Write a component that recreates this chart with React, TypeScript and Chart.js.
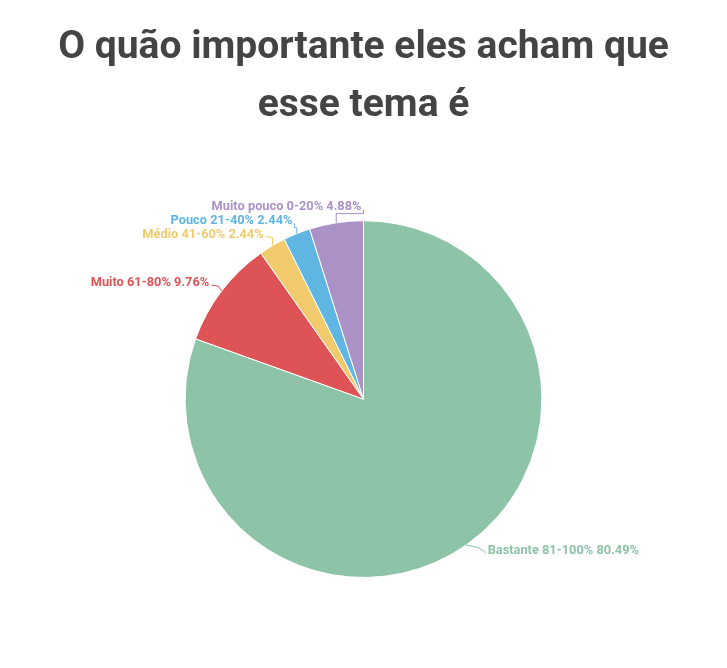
import React, { useEffect, useRef } from "react";
import { Chart, registerables } from "chart.js";

Chart.register(...registerables);

const titleLines = ["O quão importante eles acham que", "esse tema é"];
const categories = ["Bastante 81-100%", "Muito 61-80%", "Médio 41-60%", "Pouco 21-40%", "Muito pouco 0-20%"];
const values = [80.49, 9.76, 2.44, 2.44, 4.88];
const colors = ["#8dc3a7", "#de5456", "#f1cb6b", "#5fb6e3", "#ab92c6"];

const labelPlugin = {
  id: "outerLabels",
  afterDraw(chart: any) {
    const ctx = chart.ctx;
    const meta = chart.getDatasetMeta(0);
    const dist = 13;
    const gap = 14;
    const items: any[] = meta.data.map((arc: any, i: number) => {
      const p = arc.getProps(["x", "y", "startAngle", "endAngle", "outerRadius"], true);
      const mid = (p.startAngle + p.endAngle) / 2;
      const R = p.outerRadius;
      const D = R + dist;
      return {
        i,
        cx: p.x,
        cy: p.y,
        D,
        ex: p.x + Math.cos(mid) * R,
        ey: p.y + Math.sin(mid) * R,
        left: Math.cos(mid) < 0,
        ly: p.y + Math.sin(mid) * D,
      };
    });
    [true, false].forEach((side) => {
      const group = items.filter((it) => it.left === side).sort((a, b) => a.ly - b.ly);
      for (let k = group.length - 2; k >= 0; k--) {
        group[k].ly = Math.min(group[k].ly, group[k + 1].ly - gap);
      }
    });
    ctx.save();
    ctx.font = "bold 12.8px Roboto";
    ctx.textBaseline = "middle";
    ctx.lineWidth = 1;
    items.forEach((it) => {
      const dy = it.ly - it.cy;
      const dx = Math.sqrt(Math.max(0, it.D * it.D - dy * dy));
      const dir = it.left ? -1 : 1;
      let lx = it.cx + dir * dx;
      let ly = it.ly;
      if (!it.left) {
        lx += 12;
        ly -= 5;
      }
      const text = `${categories[it.i]} ${values[it.i].toFixed(2)}%`;
      const color = colors[it.i];
      const tx = lx + dir * 2;
      ctx.strokeStyle = color;
      ctx.beginPath();
      ctx.moveTo(it.ex, it.ey);
      if (Math.abs(lx - it.ex) < 4 || (it.left && lx > it.ex)) {
        ctx.lineTo(it.ex, ly + 7);
        ctx.lineTo(lx, ly + 7);
        ctx.lineTo(lx, ly + 3);
      } else {
        ctx.lineTo(lx - dir * 7, ly + 3 * (it.ey > ly ? 1 : -1));
        ctx.lineTo(lx, ly + 2);
      }
      ctx.stroke();
      ctx.fillStyle = color;
      ctx.textAlign = it.left ? "right" : "left";
      ctx.fillText(text, tx, ly);
    });
    ctx.restore();
  },
};

export default function App() {
  const ref = useRef<HTMLCanvasElement>(null);
  useEffect(() => {
    if (!ref.current) return;
    const chart = new Chart(ref.current, {
      type: "pie",
      data: {
        labels: categories,
        datasets: [
          {
            data: values,
            backgroundColor: colors,
            borderColor: "#ffffff",
            borderWidth: 1,
          },
        ],
      },
      options: {
        responsive: false,
        animation: false,
        layout: { padding: { top: 0, bottom: 90, left: 0, right: 0 } },
        plugins: {
          legend: { display: false },
          tooltip: { enabled: false },
          title: {
            display: true,
            text: titleLines,
            color: "#444444",
            font: { family: "Roboto", size: 39, weight: "bold", lineHeight: 1.49 },
            padding: { top: 19, bottom: 85 },
          },
        },
      },
      plugins: [labelPlugin],
    });
    return () => chart.destroy();
  }, []);
  return (
    <div style={{ position: "fixed", left: 0, top: 0, width: 727, height: 668, background: "#fff" }}>
      <canvas ref={ref} width={727} height={668} />
    </div>
  );
}
